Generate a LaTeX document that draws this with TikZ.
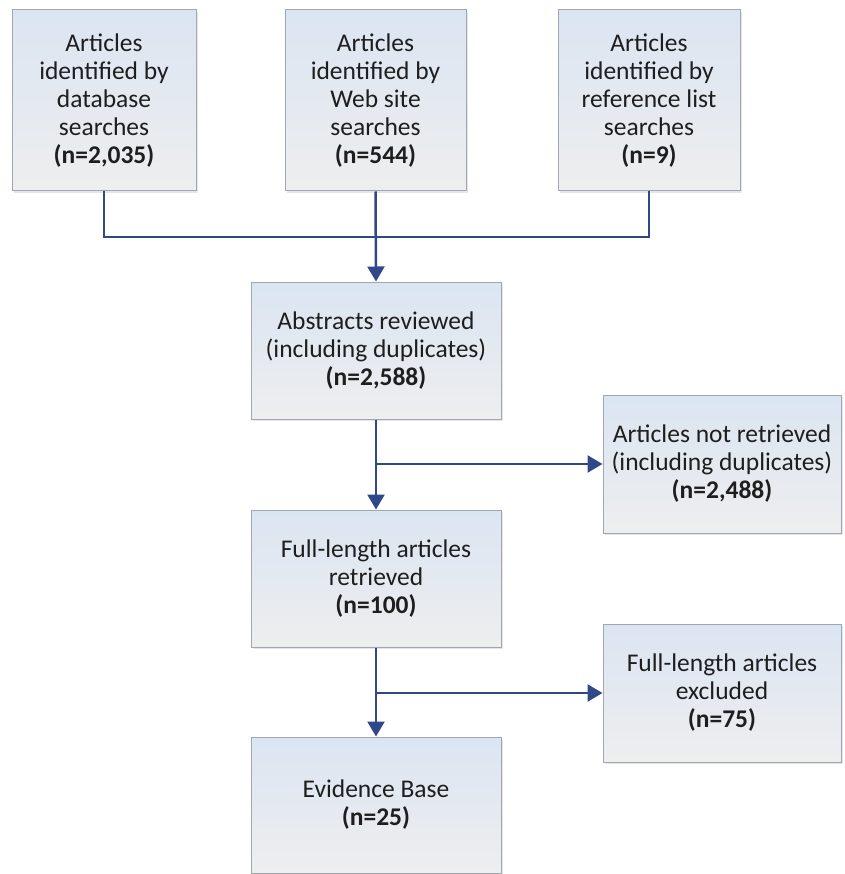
\documentclass[tikz,border=0pt]{standalone}
\usepackage{fontspec}
\setmainfont{Carlito}
\usepackage{tikz}
\usetikzlibrary{arrows.meta,shadows}
\definecolor{flowblue}{RGB}{47,72,138}
\definecolor{boxedge}{RGB}{160,166,180}
\definecolor{boxtop}{RGB}{219,229,242}
\definecolor{boxbottom}{RGB}{238,238,238}
\definecolor{flowtext}{RGB}{30,30,30}
\tikzset{
    flowbox/.style={draw=boxedge, line width=1pt, top color=boxtop, bottom color=boxbottom,
        align=center, inner sep=2pt, text=flowtext, font=\fontsize{25.5}{28}\selectfont,
        drop shadow={opacity=0.2, shadow xshift=2pt, shadow yshift=-2pt}},
    flowline/.style={draw=flowblue, line width=2.5pt},
    flowarrow/.style={flowline, -{Triangle[width=17pt,length=15pt]}}
}

\begin{document}
\begin{tikzpicture}[x=1pt,y=-1pt]
        \useasboundingbox (0,0) rectangle (844,874);
        % sources
        \node[flowbox, minimum width=184pt, minimum height=181pt] (db) at (104,100.5)
            {Articles\\identified by\\database\\searches\\\textbf{(n=2,035)}};
        \node[flowbox, minimum width=181pt, minimum height=181pt] (web) at (375.5,100.5)
            {Articles\\identified by\\Web site\\searches\\\textbf{(n=544)}};
        \node[flowbox, minimum width=182pt, minimum height=181pt] (refs) at (649,100.5)
            {Articles\\identified by\\reference list\\searches\\\textbf{(n=9)}};
        % main column
        \node[flowbox, minimum width=250pt, minimum height=137pt] (abstracts) at (376,350.5)
            {Abstracts reviewed\\(including duplicates)\\\textbf{(n=2,588)}};
        \node[flowbox, minimum width=250pt, minimum height=137pt] (fulltext) at (376,578.5)
            {Full-length articles\\retrieved\\\textbf{(n=100)}};
        \node[flowbox, minimum width=250pt, minimum height=136pt] (evidence) at (376,805)
            {Evidence Base\\\textbf{(n=25)}};
        % side boxes
        \node[flowbox, minimum width=238pt, minimum height=138pt] (notret) at (722,464)
            {Articles not retrieved\\(including duplicates)\\\textbf{(n=2,488)}};
        \node[flowbox, minimum width=238pt, minimum height=138pt] (excluded) at (722,693)
            {Full-length articles\\excluded\\\textbf{(n=75)}};

        \coordinate (merge) at (web.south |- 0,237);
        \coordinate (split1) at (abstracts.south |- notret.west);
        \coordinate (split2) at (fulltext.south |- excluded.west);

        \draw[flowline] (db.south) |- (merge);
        \draw[flowline] (refs.south) |- (merge);
        \draw[flowarrow] (web.south) -- (abstracts.north);
        \draw[flowarrow] (abstracts.south) -- (fulltext.north);
        \draw[flowarrow] (split1) -- (notret.west);
        \draw[flowarrow] (fulltext.south) -- (evidence.north);
        \draw[flowarrow] (split2) -- (excluded.west);
    \end{tikzpicture}
\end{document}
